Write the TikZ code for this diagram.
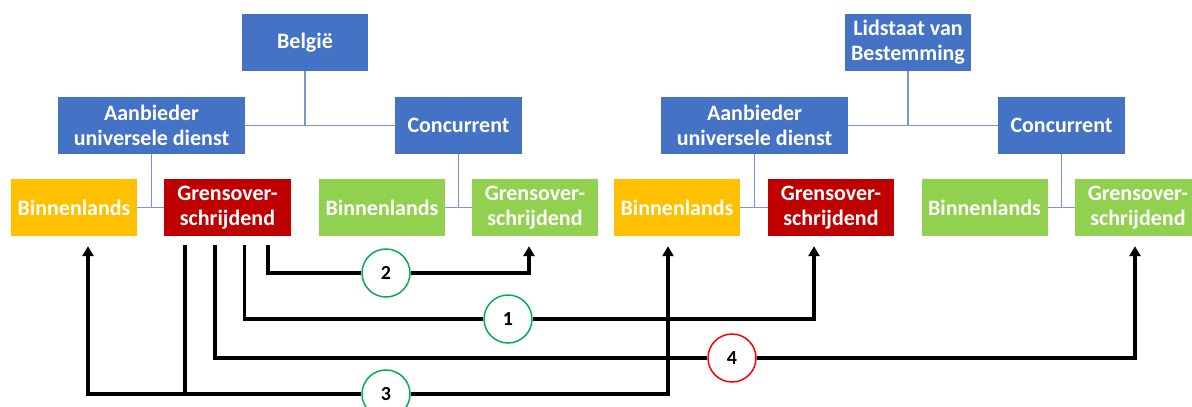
\documentclass[tikz,border=0pt]{standalone}
\usepackage{fontspec}
\setmainfont{Carlito}
\usetikzlibrary{arrows.meta}
\definecolor{boxblue}{RGB}{68,114,196}
\definecolor{boxyellow}{RGB}{255,192,0}
\definecolor{boxred}{RGB}{192,0,0}
\definecolor{boxgreen}{RGB}{146,208,80}
\definecolor{treeline}{RGB}{120,150,210}
\definecolor{ringgreen}{RGB}{0,176,80}
\definecolor{ringred}{RGB}{255,0,0}
\begin{document}
\begin{tikzpicture}[x=1pt,y=-1pt,
        box/.style={fill=#1, text=white, font=\bfseries\fontsize{22}{25}\selectfont, minimum width=126pt, minimum height=57pt, inner sep=0pt, align=center},
        tree/.style={draw=treeline, line width=1.5pt},
        flow/.style={draw=black, line width=3.5pt},
        flowtip/.style={-{Triangle[length=10pt,width=11pt]}, shorten >=10pt},
        ring/.style={circle, draw=#1, line width=1.5pt, fill=white, minimum size=48pt, inner sep=0pt, font=\bfseries\fontsize{20}{23}\selectfont}]
            \useasboundingbox (0,0) rectangle (1192,407);

            \node [box=boxblue] (BE) at (305,42.5) {België};
            \node [box=boxblue, minimum width=187pt] (AUD1) at (151.5,125.5) {Aanbieder\\universele dienst};
            \node [box=boxblue, minimum width=127pt] (CON1) at (458.5,125.5) {Concurrent};
            \node [box=boxyellow] (BIN1) at (74,207.5) {Binnenlands};
            \node [box=boxred, minimum width=127pt] (GRS1) at (227.5,207.5) {Grensover-\\schrijdend};
            \node [box=boxgreen] (BINC1) at (382,207.5) {Binnenlands};
            \node [box=boxgreen] (GRSC1) at (535,207.5) {Grensover-\\schrijdend};

            \node [box=boxblue] (LID) at (908,42.5) {Lidstaat van\\Bestemming};
            \node [box=boxblue, minimum width=187pt] (AUD2) at (754.5,125.5) {Aanbieder\\universele dienst};
            \node [box=boxblue, minimum width=127pt] (CON2) at (1061.5,125.5) {Concurrent};
            \node [box=boxyellow] (BIN2) at (677,207.5) {Binnenlands};
            \node [box=boxred] (GRS2) at (831,207.5) {Grensover-\\schrijdend};
            \node [box=boxgreen] (BINC2) at (984.5,207.5) {Binnenlands};
            \node [box=boxgreen] (GRSC2) at (1138,207.5) {Grensover-\\schrijdend};

            \draw[tree] (BE) -- (BE |- AUD1);
            \draw[tree] (AUD1) -- (CON1);
            \draw[tree] (AUD1) -- (AUD1 |- BIN1);
            \draw[tree] (BIN1) -- (GRS1);
            \draw[tree] (CON1) -- (CON1 |- BINC1);
            \draw[tree] (BINC1) -- (GRSC1);

            \draw[tree] (LID) -- (LID |- AUD2);
            \draw[tree] (AUD2) -- (CON2);
            \draw[tree] (AUD2) -- (AUD2 |- BIN2);
            \draw[tree] (BIN2) -- (GRS2);
            \draw[tree] (CON2) -- (CON2 |- BINC2);
            \draw[tree] (BINC2) -- (GRSC2);

            \node [ring=ringgreen] (N2) at (386,273) {2};
            \node [ring=ringgreen] (N1) at (508,319) {1};
            \node [ring=ringred] (N4) at (732,358) {4};
            \node [ring=ringgreen] (N3) at (386,394) {3};
            \coordinate (J3) at (185,394);

            \draw[flow, shorten <=9pt] ([xshift=40.5pt]GRS1.south) |- (N2);
            \draw[flow, flowtip] (N2) -| ([xshift=-6pt]GRSC1.south);
            \draw[flow, shorten <=9pt] ([xshift=17pt]GRS1.south) |- (N1);
            \draw[flow, flowtip] (N1) -| ([xshift=-17pt]GRS2.south);
            \draw[flow, shorten <=9pt] ([xshift=-12.5pt]GRS1.south) |- (N4);
            \draw[flow, flowtip] (N4) -| ([xshift=-3pt]GRSC2.south);
            \draw[flow, shorten <=9pt] ([xshift=-42.5pt]GRS1.south) -- (J3);
            \draw[flow, flowtip] (J3) -| ([xshift=14pt]BIN1.south);
            \draw[flow] (J3) -- (N3);
            \draw[flow, flowtip] (N3) -| ([xshift=-9pt]BIN2.south);
        \end{tikzpicture}
\end{document}
